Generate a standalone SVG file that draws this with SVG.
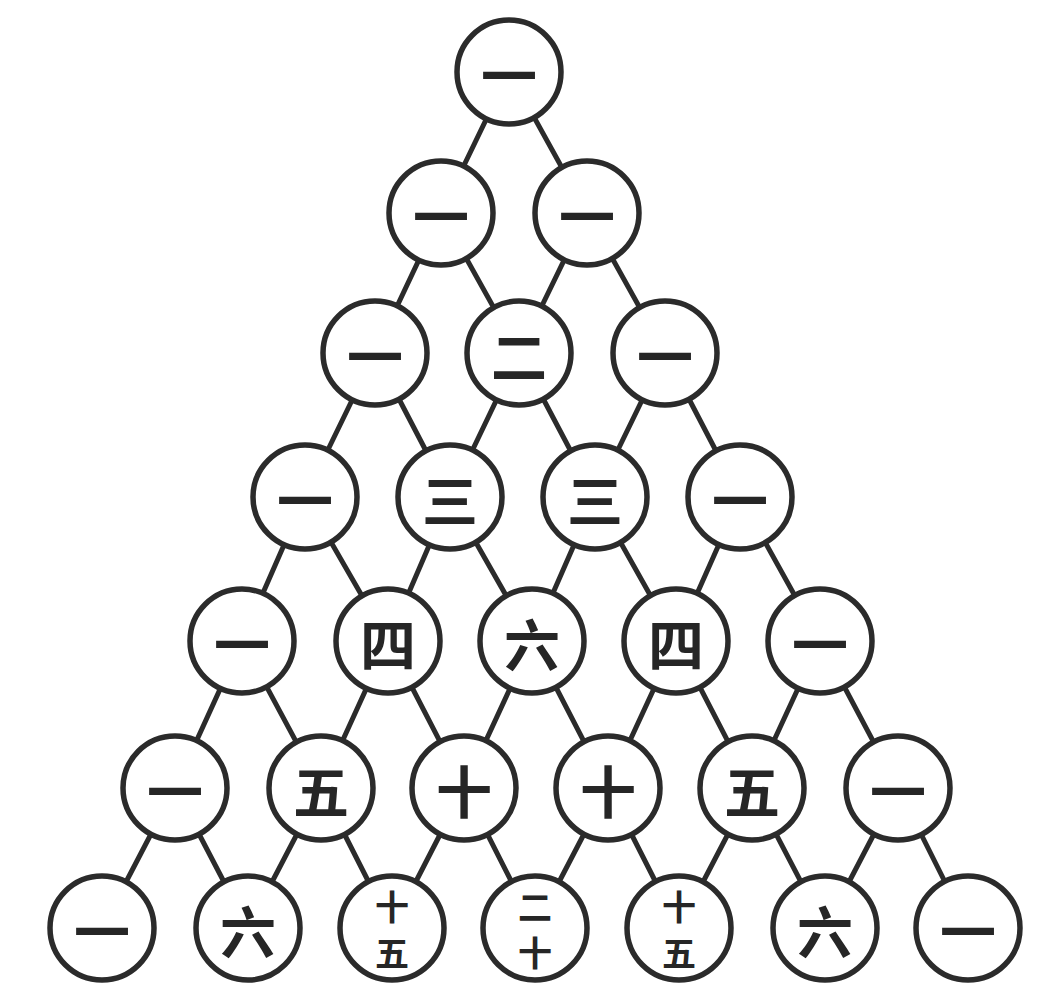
<svg xmlns="http://www.w3.org/2000/svg" width="1041" height="984" viewBox="0 0 1041 984">
<style>
.edge{stroke:#2b2b2b;stroke-width:5;stroke-linecap:round}
.node circle{fill:#fff;stroke:#2b2b2b;stroke-width:5.5}
.node text{font-family:"Noto Sans CJK SC","Noto Sans CJK JP",sans-serif;font-weight:700;font-size:56px;fill:#262626;text-anchor:middle;dominant-baseline:central}
.node text.s{font-size:34px}
</style>
<rect width="1041" height="984" fill="#fff"/>
<g id="connectors">
<line class="edge" x1="509" y1="72" x2="441" y2="213"/><line class="edge" x1="509" y1="72" x2="587" y2="213"/>
<line class="edge" x1="441" y1="213" x2="375" y2="353"/><line class="edge" x1="441" y1="213" x2="519" y2="353"/><line class="edge" x1="587" y1="213" x2="519" y2="353"/><line class="edge" x1="587" y1="213" x2="665" y2="353"/>
<line class="edge" x1="375" y1="353" x2="305" y2="497"/><line class="edge" x1="375" y1="353" x2="450" y2="497"/><line class="edge" x1="519" y1="353" x2="450" y2="497"/><line class="edge" x1="519" y1="353" x2="595" y2="497"/><line class="edge" x1="665" y1="353" x2="595" y2="497"/><line class="edge" x1="665" y1="353" x2="740" y2="497"/>
<line class="edge" x1="305" y1="497" x2="242" y2="641"/><line class="edge" x1="305" y1="497" x2="388" y2="641"/><line class="edge" x1="450" y1="497" x2="388" y2="641"/><line class="edge" x1="450" y1="497" x2="532" y2="641"/><line class="edge" x1="595" y1="497" x2="532" y2="641"/><line class="edge" x1="595" y1="497" x2="676" y2="641"/><line class="edge" x1="740" y1="497" x2="676" y2="641"/><line class="edge" x1="740" y1="497" x2="820" y2="641"/>
<line class="edge" x1="242" y1="641" x2="175" y2="788"/><line class="edge" x1="242" y1="641" x2="321" y2="788"/><line class="edge" x1="388" y1="641" x2="321" y2="788"/><line class="edge" x1="388" y1="641" x2="464" y2="788"/><line class="edge" x1="532" y1="641" x2="464" y2="788"/><line class="edge" x1="532" y1="641" x2="608" y2="788"/><line class="edge" x1="676" y1="641" x2="608" y2="788"/><line class="edge" x1="676" y1="641" x2="752" y2="788"/><line class="edge" x1="820" y1="641" x2="752" y2="788"/><line class="edge" x1="820" y1="641" x2="898" y2="788"/>
<line class="edge" x1="175" y1="788" x2="102" y2="928"/><line class="edge" x1="175" y1="788" x2="248" y2="928"/><line class="edge" x1="321" y1="788" x2="248" y2="928"/><line class="edge" x1="321" y1="788" x2="392" y2="928"/><line class="edge" x1="464" y1="788" x2="392" y2="928"/><line class="edge" x1="464" y1="788" x2="535" y2="928"/><line class="edge" x1="608" y1="788" x2="535" y2="928"/><line class="edge" x1="608" y1="788" x2="679" y2="928"/><line class="edge" x1="752" y1="788" x2="679" y2="928"/><line class="edge" x1="752" y1="788" x2="825" y2="928"/><line class="edge" x1="898" y1="788" x2="825" y2="928"/><line class="edge" x1="898" y1="788" x2="968" y2="928"/>
</g>
<g id="n0_0" class="node"><circle cx="509" cy="72" r="52"/><text x="509" y="72">一</text></g>
<g id="n1_0" class="node"><circle cx="441" cy="213" r="52"/><text x="441" y="213">一</text></g>
<g id="n1_1" class="node"><circle cx="587" cy="213" r="52"/><text x="587" y="213">一</text></g>
<g id="n2_0" class="node"><circle cx="375" cy="353" r="52"/><text x="375" y="353">一</text></g>
<g id="n2_1" class="node"><circle cx="519" cy="353" r="52"/><text x="519" y="353">二</text></g>
<g id="n2_2" class="node"><circle cx="665" cy="353" r="52"/><text x="665" y="353">一</text></g>
<g id="n3_0" class="node"><circle cx="305" cy="497" r="52"/><text x="305" y="497">一</text></g>
<g id="n3_1" class="node"><circle cx="450" cy="497" r="52"/><text x="450" y="497">三</text></g>
<g id="n3_2" class="node"><circle cx="595" cy="497" r="52"/><text x="595" y="497">三</text></g>
<g id="n3_3" class="node"><circle cx="740" cy="497" r="52"/><text x="740" y="497">一</text></g>
<g id="n4_0" class="node"><circle cx="242" cy="641" r="52"/><text x="242" y="641">一</text></g>
<g id="n4_1" class="node"><circle cx="388" cy="641" r="52"/><text x="388" y="641">四</text></g>
<g id="n4_2" class="node"><circle cx="532" cy="641" r="52"/><text x="532" y="641">六</text></g>
<g id="n4_3" class="node"><circle cx="676" cy="641" r="52"/><text x="676" y="641">四</text></g>
<g id="n4_4" class="node"><circle cx="820" cy="641" r="52"/><text x="820" y="641">一</text></g>
<g id="n5_0" class="node"><circle cx="175" cy="788" r="52"/><text x="175" y="788">一</text></g>
<g id="n5_1" class="node"><circle cx="321" cy="788" r="52"/><text x="321" y="788">五</text></g>
<g id="n5_2" class="node"><circle cx="464" cy="788" r="52"/><text x="464" y="788">十</text></g>
<g id="n5_3" class="node"><circle cx="608" cy="788" r="52"/><text x="608" y="788">十</text></g>
<g id="n5_4" class="node"><circle cx="752" cy="788" r="52"/><text x="752" y="788">五</text></g>
<g id="n5_5" class="node"><circle cx="898" cy="788" r="52"/><text x="898" y="788">一</text></g>
<g id="n6_0" class="node"><circle cx="102" cy="928" r="52"/><text x="102" y="928">一</text></g>
<g id="n6_1" class="node"><circle cx="248" cy="928" r="52"/><text x="248" y="928">六</text></g>
<g id="n6_2" class="node"><circle cx="392" cy="928" r="52"/><text class="s" x="392"><tspan x="392" y="905">十</tspan><tspan x="392" y="951">五</tspan></text></g>
<g id="n6_3" class="node"><circle cx="535" cy="928" r="52"/><text class="s" x="535"><tspan x="535" y="905">二</tspan><tspan x="535" y="951">十</tspan></text></g>
<g id="n6_4" class="node"><circle cx="679" cy="928" r="52"/><text class="s" x="679"><tspan x="679" y="905">十</tspan><tspan x="679" y="951">五</tspan></text></g>
<g id="n6_5" class="node"><circle cx="825" cy="928" r="52"/><text x="825" y="928">六</text></g>
<g id="n6_6" class="node"><circle cx="968" cy="928" r="52"/><text x="968" y="928">一</text></g>
</svg>
